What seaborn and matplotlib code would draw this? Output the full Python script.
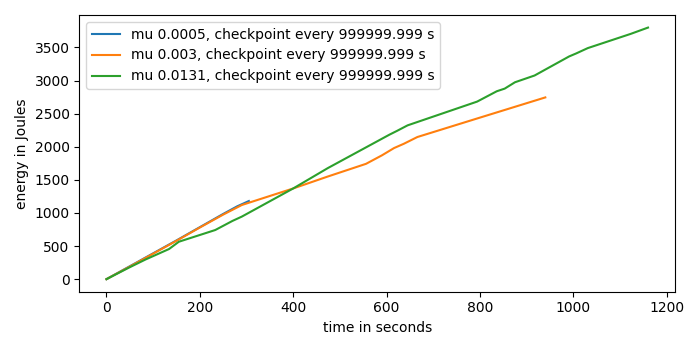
import matplotlib.pyplot as plt
import pandas as pd
import seaborn as sns

# values
labels = ['mu 0.0005, checkpoint every 999999.999 s',
          'mu 0.003, checkpoint every 999999.999 s',
          'mu 0.0131, checkpoint every 999999.999 s']

t_blue = [0, 50, 100, 150, 200, 250, 280, 305]
e_blue = [0, 195, 390, 585, 785, 985, 1100, 1180]

t_orange = [0, 50, 100, 150, 200, 250, 290, 400, 474, 556, 590, 616, 637, 666, 800, 940]
e_orange = [0, 190, 385, 580, 780, 975, 1120, 1370, 1550, 1742, 1870, 1980, 2045, 2147, 2440, 2745]

t_green = [0, 49, 84, 134, 155, 233, 270, 290, 400, 474, 606, 623, 645, 794, 836, 853,
           875, 917, 991, 1006, 1031, 1123, 1160]
e_green = [0, 177, 298, 455, 565, 742, 880, 945, 1370, 1677, 2182, 2242, 2323, 2682, 2838, 2878,
           2974, 3076, 3364, 3409, 3490, 3705, 3800]

frames = []
for lab, t, e in [(labels[0], t_blue, e_blue), (labels[1], t_orange, e_orange), (labels[2], t_green, e_green)]:
    frames.append(pd.DataFrame({'time': t, 'energy': e, 'run': lab}))
df = pd.concat(frames, ignore_index=True)

fig, ax = plt.subplots(figsize=(7, 3.5), dpi=100)
for lab in labels:
    d = df[df['run'] == lab]
    sns.lineplot(x='time', y='energy', data=d, ax=ax, label=lab, sort=False, estimator=None)

ax.set_xlabel('time in seconds')
ax.set_ylabel('energy in Joules')
ax.legend(loc='upper left')
fig.tight_layout()
fig.savefig('out.png')
